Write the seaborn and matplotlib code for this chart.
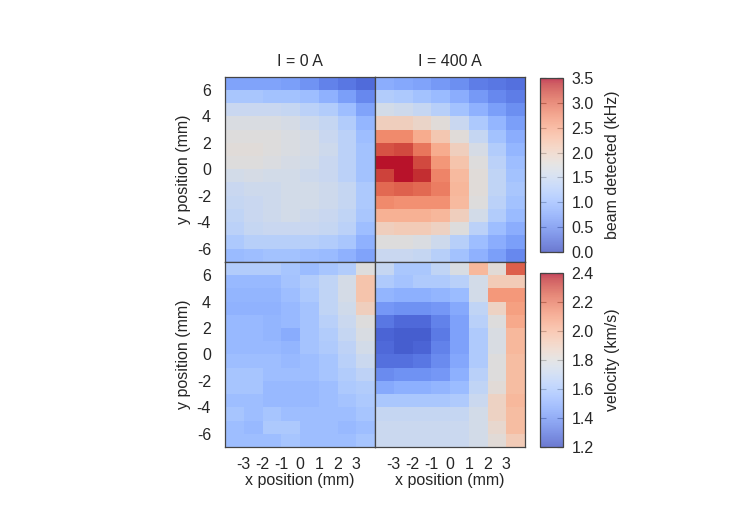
import pandas as pd
import seaborn as sns
from matplotlib import pyplot as plt

# cell centres (mm)
x_mm = [-3.5, -2.5, -1.5, -0.5, 0.5, 1.5, 2.5, 3.5]
y_mm = [6.5, 5.5, 4.5, 3.5, 2.5, 1.5, 0.5, -0.5, -1.5, -2.5, -3.5, -4.5, -5.5, -6.5]
x_ticks = [-3, -2, -1, 0, 1, 2, 3]
y_ticks = [6, 4, 2, 0, -2, -4, -6]
titles = ['I = 0 A', 'I = 400 A']

# beam detected (kHz), rows from y=6.5 down to y=-6.5
beam_0A = [
    [0.75, 0.75, 0.75, 0.70, 0.60, 0.45, 0.35, 0.25],
    [1.15, 1.15, 1.10, 1.10, 1.05, 0.90, 0.70, 0.50],
    [1.50, 1.50, 1.50, 1.45, 1.35, 1.25, 1.05, 0.75],
    [1.70, 1.70, 1.70, 1.65, 1.55, 1.45, 1.25, 0.95],
    [1.75, 1.75, 1.75, 1.70, 1.65, 1.50, 1.35, 1.05],
    [1.80, 1.80, 1.75, 1.70, 1.65, 1.55, 1.35, 1.10],
    [1.75, 1.75, 1.72, 1.65, 1.60, 1.50, 1.35, 1.10],
    [1.60, 1.65, 1.60, 1.60, 1.55, 1.50, 1.35, 1.10],
    [1.50, 1.55, 1.55, 1.60, 1.60, 1.55, 1.45, 1.20],
    [1.45, 1.50, 1.55, 1.60, 1.60, 1.55, 1.45, 1.20],
    [1.40, 1.50, 1.55, 1.60, 1.55, 1.50, 1.40, 1.15],
    [1.35, 1.45, 1.50, 1.50, 1.50, 1.45, 1.35, 1.05],
    [1.20, 1.30, 1.30, 1.30, 1.30, 1.25, 1.15, 0.90],
    [1.00, 1.05, 1.10, 1.10, 1.05, 1.00, 0.90, 0.75],
]
beam_400A = [
    [0.85, 0.80, 0.75, 0.65, 0.55, 0.40, 0.35, 0.30],
    [1.25, 1.20, 1.10, 1.00, 0.85, 0.65, 0.50, 0.40],
    [1.60, 1.55, 1.45, 1.30, 1.10, 0.90, 0.70, 0.55],
    [2.05, 2.05, 1.95, 1.80, 1.50, 1.20, 0.95, 0.70],
    [2.75, 2.75, 2.45, 2.15, 1.80, 1.45, 1.10, 0.85],
    [3.15, 3.20, 2.90, 2.45, 2.05, 1.65, 1.25, 0.95],
    [3.45, 3.45, 3.20, 2.65, 2.20, 1.75, 1.35, 1.05],
    [3.25, 3.45, 3.35, 2.80, 2.30, 1.80, 1.40, 1.10],
    [3.00, 3.05, 3.00, 2.85, 2.35, 1.80, 1.40, 1.15],
    [2.75, 2.70, 2.70, 2.70, 2.30, 1.75, 1.35, 1.10],
    [2.40, 2.40, 2.40, 2.35, 2.05, 1.60, 1.25, 1.00],
    [2.05, 2.10, 2.10, 2.00, 1.75, 1.35, 1.05, 0.85],
    [1.75, 1.75, 1.70, 1.55, 1.30, 1.05, 0.85, 0.70],
    [1.50, 1.50, 1.45, 1.30, 1.10, 0.90, 0.70, 0.50],
]

# velocity (km/s)
vel_0A = [
    [1.63, 1.63, 1.63, 1.59, 1.55, 1.59, 1.63, 1.80],
    [1.54, 1.54, 1.54, 1.58, 1.63, 1.68, 1.76, 1.95],
    [1.52, 1.52, 1.52, 1.56, 1.61, 1.68, 1.76, 1.95],
    [1.51, 1.51, 1.51, 1.54, 1.58, 1.68, 1.74, 1.90],
    [1.54, 1.54, 1.52, 1.54, 1.58, 1.65, 1.72, 1.80],
    [1.54, 1.54, 1.52, 1.49, 1.58, 1.63, 1.70, 1.78],
    [1.54, 1.54, 1.54, 1.52, 1.58, 1.62, 1.67, 1.75],
    [1.56, 1.56, 1.56, 1.54, 1.56, 1.59, 1.65, 1.72],
    [1.59, 1.59, 1.56, 1.56, 1.56, 1.59, 1.63, 1.67],
    [1.59, 1.59, 1.54, 1.54, 1.54, 1.56, 1.61, 1.63],
    [1.56, 1.56, 1.54, 1.54, 1.54, 1.56, 1.58, 1.61],
    [1.59, 1.56, 1.59, 1.56, 1.56, 1.56, 1.56, 1.59],
    [1.56, 1.54, 1.61, 1.61, 1.56, 1.56, 1.54, 1.56],
    [1.56, 1.56, 1.56, 1.59, 1.56, 1.56, 1.56, 1.59],
]
vel_400A = [
    [1.70, 1.60, 1.60, 1.68, 1.78, 2.00, 1.82, 2.25],
    [1.62, 1.58, 1.62, 1.62, 1.65, 1.75, 1.92, 1.92],
    [1.52, 1.50, 1.50, 1.52, 1.55, 1.75, 2.10, 2.10],
    [1.42, 1.40, 1.40, 1.42, 1.48, 1.68, 1.88, 2.08],
    [1.32, 1.28, 1.28, 1.35, 1.45, 1.65, 1.80, 2.05],
    [1.27, 1.25, 1.25, 1.33, 1.45, 1.62, 1.78, 2.00],
    [1.28, 1.25, 1.27, 1.35, 1.45, 1.62, 1.78, 2.00],
    [1.30, 1.30, 1.32, 1.38, 1.47, 1.62, 1.80, 1.98],
    [1.38, 1.40, 1.40, 1.42, 1.50, 1.65, 1.80, 1.98],
    [1.48, 1.50, 1.50, 1.52, 1.55, 1.68, 1.82, 1.98],
    [1.60, 1.60, 1.60, 1.60, 1.62, 1.72, 1.88, 2.00],
    [1.70, 1.70, 1.70, 1.70, 1.70, 1.75, 1.88, 1.98],
    [1.72, 1.72, 1.72, 1.72, 1.72, 1.75, 1.85, 1.98],
    [1.72, 1.72, 1.72, 1.72, 1.72, 1.75, 1.82, 1.92],
]

beam_ticks = [0.0, 0.5, 1.0, 1.5, 2.0, 2.5, 3.0, 3.5]
vel_ticks = [1.2, 1.4, 1.6, 1.8, 2.0, 2.2, 2.4]

sns.set_style('white')
plt.rcParams['font.family'] = ['Liberation Sans', 'DejaVu Sans']
plt.rcParams['font.size'] = 10.5

fig = plt.figure(figsize=(7.5, 5.25), dpi=100)

frame = '#444444'
panels = [
    (beam_0A, 0, 0), (beam_400A, 0, 1),
    (vel_0A, 1, 0), (vel_400A, 1, 1),
]
rows = [
    dict(vmin=0.0, vmax=3.5, ticks=beam_ticks, label='beam detected (kHz)',
         bottom=0.5014, cb_bottom=0.52),
    dict(vmin=1.2, vmax=2.4, ticks=vel_ticks, label='velocity (km/s)',
         bottom=0.1486, cb_bottom=0.1486),
]
col_left = [0.30, 0.50]

for data, r, c in panels:
    opt = rows[r]
    ax = fig.add_axes([col_left[c], opt['bottom'], 0.20, 0.3524])
    df = pd.DataFrame(data, index=y_mm, columns=x_mm)
    if c == 1:
        cax = fig.add_axes([0.72, opt['cb_bottom'], 0.0307, 0.3314])
        sns.heatmap(df, ax=ax, cmap='coolwarm', vmin=opt['vmin'], vmax=opt['vmax'],
                    cbar_ax=cax, xticklabels=False, yticklabels=False)
        cb = ax.collections[0].colorbar
        cb.solids.set_alpha(0.75)
        cb.outline.set_linewidth(0.9)
        cb.outline.set_edgecolor(frame)
        cb.set_ticks(opt['ticks'])
        cb.set_ticklabels([f'{t:.1f}' for t in opt['ticks']])
        cb.ax.tick_params(direction='in', left=True, right=True, length=4,
                          width=0.8, color=frame, pad=6, labelsize=11.5)
        cb.set_label(opt['label'], fontsize=11.5, labelpad=8)
    else:
        sns.heatmap(df, ax=ax, cmap='coolwarm', vmin=opt['vmin'], vmax=opt['vmax'],
                    cbar=False, xticklabels=False, yticklabels=False)

    for s in ax.spines.values():
        s.set_visible(True)
        s.set_color(frame)
        s.set_linewidth(0.9)

    ax.set_xticks([t - x_mm[0] + 0.5 for t in x_ticks])
    ax.set_yticks([y_mm[0] + 0.5 - t for t in y_ticks])
    ax.tick_params(direction='in', top=True, right=True, bottom=True, left=True,
                   length=4, width=0.8, color=frame, pad=7, labelsize=11.5)
    ax.tick_params(axis='y', pad=10)
    if r == 1:
        ax.set_xticklabels([str(t) for t in x_ticks])
        ax.set_xlabel('x position (mm)', fontsize=11.5, labelpad=1)
    else:
        ax.set_xticklabels([])
        ax.set_xlabel('')
        ax.set_title(titles[c], fontsize=11.5, pad=8)
    if c == 0:
        ax.set_yticklabels([str(t) for t in y_ticks])
        ax.set_ylabel('y position (mm)', fontsize=11.5, labelpad=4)
    else:
        ax.set_yticklabels([])
        ax.set_ylabel('')

fig.savefig('out.png', dpi=100)
